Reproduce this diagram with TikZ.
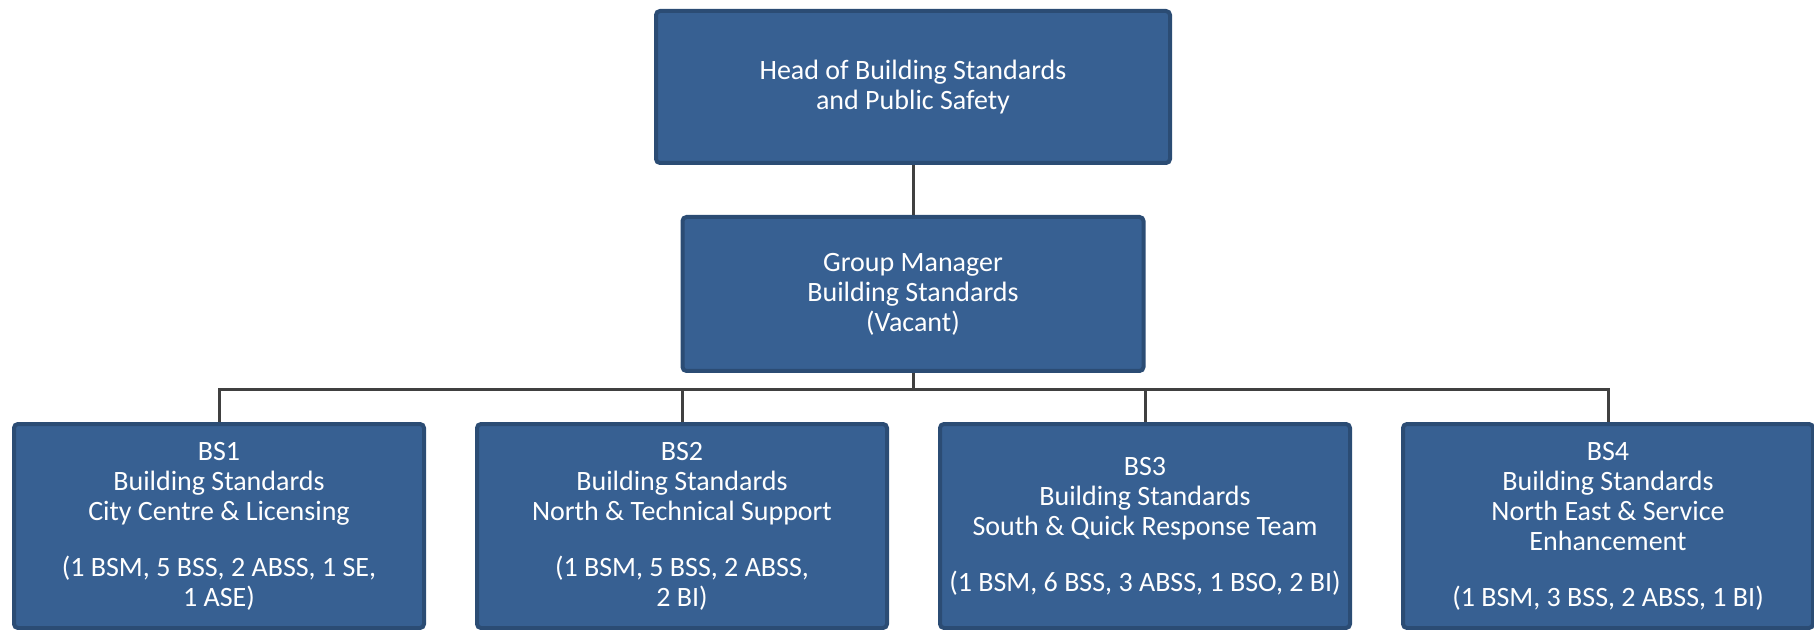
\documentclass[tikz,border=0pt]{standalone}
\usepackage{fontspec}
\setmainfont{Carlito}
\definecolor{boxblue}{RGB}{55,96,146}
\definecolor{boxedge}{RGB}{43,76,116}
\definecolor{linkgray}{RGB}{64,64,64}
\begin{document}
\begin{tikzpicture}[x=0.5pt, y=-0.5pt,
    post/.style = {draw=boxedge, fill=boxblue, line width=2pt, rounded corners=2pt,
                   text=white, align=center, font=\fontsize{14}{15}\selectfont,
                   inner xsep=2pt, inner ysep=0pt},
    head/.style = {post, minimum width=257pt, minimum height=76pt},
    group/.style = {post, minimum width=230.5pt, minimum height=77pt},
    team/.style = {post, minimum width=205pt, minimum height=102pt},
    link/.style = {draw=linkgray, line width=1.5pt},
  ]
  \useasboundingbox (0,0) rectangle (1814,630);
  \node[head] (head) at (913,87) {Head of Building Standards\\and Public Safety};
  \node[group] (group) at (913,294) {Group Manager\\Building Standards\\(Vacant)};
  \node[team] (bs1) at (219,526) {BS1\\Building Standards\\City Centre \& Licensing\\[13pt]
    (1 BSM, 5 BSS, 2 ABSS, 1 SE,\\1 ASE)};
  \node[team] (bs2) at (682,526) {BS2\\Building Standards\\North \& Technical Support\\[13pt]
    (1 BSM, 5 BSS, 2 ABSS,\\2 BI)};
  \node[team] (bs3) at (1145,526) {BS3\\Building Standards\\South \& Quick Response Team\\[13pt]
    (1 BSM, 6 BSS, 3 ABSS, 1 BSO, 2 BI)};
  \node[team] (bs4) at (1608,526) {BS4\\Building Standards\\North East \& Service\\Enhancement\\[13pt]
    (1 BSM, 3 BSS, 2 ABSS, 1 BI)};
  \draw[link] (head.south) -- (group.north);
  \foreach \t in {bs1,bs2,bs3,bs4}
    \draw[link] (group.south) -- ++(0,17) -| (\t.north);
\end{tikzpicture}
\end{document}
